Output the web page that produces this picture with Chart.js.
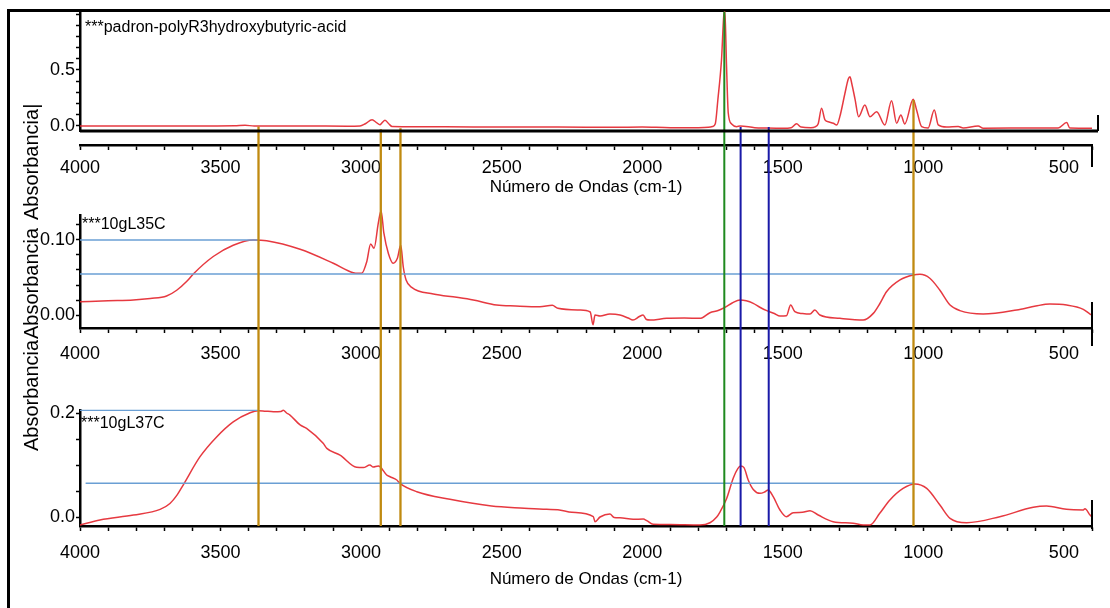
<!DOCTYPE html>
<html><head><meta charset="utf-8">
<script src="https://cdn.jsdelivr.net/npm/chart.js@4.4.1/dist/chart.umd.min.js"></script>
<style>
html,body{margin:0;padding:0;background:#fff;}
#wrap{position:relative;width:1110px;height:608px;overflow:hidden;background:#fff;}
canvas{position:absolute;left:0;}
#frame{position:absolute;left:7px;top:9px;width:1200px;height:700px;border-top:3px solid #000;border-left:3px solid #000;}
.ytitle{position:absolute;left:21px;font-family:'Liberation Sans',Arial,sans-serif;font-size:20px;line-height:20px;white-space:nowrap;transform-origin:left top;transform:rotate(-90deg);color:#000;}
</style></head>
<body><div id="wrap">
<div id="frame"></div>
<canvas id="c1" width="1110" height="200" style="top:0px"></canvas>
<canvas id="c2" width="1110" height="170" style="top:200px"></canvas>
<canvas id="c3" width="1110" height="238" style="top:370px"></canvas>
<div class="ytitle" style="top:451px">Absorbancia</div>
<div class="ytitle" style="top:339px">Absorbancia</div>
<div class="ytitle" style="top:220px">Absorbancia|</div>
</div>
<script>
// ---------- data ----------
const X_MIN = 400, X_MAX = 4000, X_MINOR_STEP = 100;
const xTickLabels = [4000, 3500, 3000, 2500, 2000, 1500, 1000, 500];
const xAxisTitle = 'Número de Ondas (cm-1)';

const panelNames = ['***padron-polyR3hydroxybutyric-acid', '***10gL35C', '***10gL37C'];

// panel 1: PHB standard
const s1Wn = [4000,3800,3600,3450,3413,3380,3200,3050,3004,2985,2961,2945,2933,2925,2915,2900,2890,2700,2500,2300,2100,2000,1900,1800,1765,1750,1740,1731,1718,1709,1706,1700,1694,1682,1664,1652,1600,1557,1500,1470,1451,1435,1400,1385,1374,1362,1350,1335,1320,1308,1297,1279,1267,1261,1255,1243,1230,1208,1190,1166,1137,1113,1095,1080,1066,1036,1024,1006,983,961,947,917,876,858,805,787,600,520,490,479,400];
const s1Abs = [0.0,0.0,0.0,0.002,0.006,0.0,0.0,-0.002,0.0,0.02,0.055,0.03,0.01,0.03,0.05,0.015,-0.005,-0.008,-0.01,-0.01,-0.012,-0.01,-0.015,-0.015,-0.012,-0.005,0.02,0.232,0.589,1.006,1.02,0.53,0.116,0.018,-0.006,0.0,-0.015,-0.018,-0.02,-0.015,0.02,-0.01,-0.015,-0.008,0.02,0.158,0.054,0.035,0.024,0.009,0.083,0.29,0.42,0.44,0.384,0.24,0.083,0.1875,0.083,0.128,0.009,0.226,0.024,0.098,0.018,0.238,0.143,-0.006,-0.018,0.143,0.009,-0.01,-0.005,-0.018,0.0,-0.02,-0.018,-0.018,0.03,-0.018,-0.02];

// panel 2: 10gL35C
const s2Wn = [4000,3900,3810,3750,3692,3656,3620,3597,3526,3455,3384,3336,3217,3099,3028,3010,2998,2980,2966,2954,2939,2929,2919,2903,2886,2871,2859,2850,2840,2820,2743,2660,2601,2518,2450,2364,2320,2300,2222,2185,2175,2168,2150,2115,2079,2050,2033,2010,1997,1985,1972,1913,1850,1795,1759,1730,1706,1680,1652,1630,1605,1580,1557,1530,1510,1487,1472,1457,1430,1403,1386,1368,1297,1214,1178,1155,1131,1083,1036,1012,977,941,905,870,787,668,600,550,490,431,407,400];
const s2Abs = [0.0177,0.019,0.02,0.022,0.0253,0.033,0.045,0.0547,0.078,0.093,0.100,0.099,0.0876,0.069,0.0564,0.0556,0.0556,0.071,0.0947,0.089,0.122,0.139,0.109,0.082,0.069,0.0756,0.093,0.064,0.0467,0.0369,0.028,0.0236,0.02,0.0133,0.012,0.011,0.013,0.009,0.0067,0.004,-0.013,0.0,-0.0013,0.0013,0.0,-0.004,-0.0067,-0.002,0.0,-0.006,-0.0067,-0.0044,-0.004,-0.0044,0.0031,0.006,0.0102,0.016,0.02,0.019,0.0156,0.01,0.0058,0.002,-0.0013,-0.001,0.0133,0.0044,0.002,0.0013,0.0067,0.0,-0.0044,-0.0067,0.0022,0.015,0.031,0.0467,0.0533,0.0542,0.049,0.033,0.0133,0.0058,0.0013,0.0067,0.012,0.0147,0.0133,0.0076,0.0013,0.0];

// panel 3: 10gL37C
const s3Wn = [4000,3929,3810,3715,3680,3655,3633,3573,3514,3455,3395,3366,3340,3312,3285,3277,3265,3253,3217,3194,3135,3122,3075,3016,2992,2969,2957,2939,2933,2909,2897,2873,2862,2802,2684,2536,2420,2340,2300,2250,2174,2168,2150,2115,2100,2079,2032,1996,1984,1961,1900,1795,1759,1735,1724,1700,1676,1660,1650,1638,1623,1605,1581,1565,1552,1534,1510,1487,1463,1430,1403,1374,1321,1250,1214,1190,1155,1119,1072,1030,988,941,905,846,728,609,562,491,431,425,407,400];
const s3Abs = [-0.0154,-0.0058,0.0038,0.0147,0.026,0.042,0.0615,0.116,0.154,0.183,0.2006,0.2045,0.2035,0.2026,0.203,0.2055,0.2,0.196,0.177,0.1705,0.1417,0.132,0.119,0.0955,0.095,0.1,0.096,0.098,0.097,0.0808,0.0775,0.0712,0.0648,0.0487,0.034,0.021,0.017,0.0147,0.014,0.009,0.0006,-0.009,0.0,0.0058,-0.001,-0.0015,-0.0045,-0.004,-0.007,-0.014,-0.0145,-0.0154,-0.011,0.0,0.009,0.035,0.075,0.093,0.098,0.095,0.0712,0.053,0.0455,0.048,0.052,0.039,0.0135,0.0006,0.0083,0.009,0.012,0.0038,-0.009,-0.012,-0.0154,-0.0154,0.0071,0.0327,0.055,0.0635,0.055,0.023,-0.0025,-0.011,0.0006,0.0186,0.021,0.0147,0.0135,0.016,0.0038,0.0];

// y ranges, minor tick steps and labelled ticks
const y1Range = [-0.045, 1.018], y1Step = 0.1,  y1TickLabels = ['0.0', '0.5'];
const y2Range = [-0.0173, 0.1333], y2Step = 0.02, y2TickLabels = ['0.00', '0.10'];
const y3Range = [-0.0173, 0.2058], y3Step = 0.05, y3TickLabels = ['0.0', '0.2'];

// marker (vertical) lines, wavenumbers
const orangeMarkers = [3365, 2930, 2860, 1035];
const greenMarkers = [1708];
const blueMarkers = [1650, 1550];
// where each marker starts in the top panel (absorbance)
const orangeStartP1 = [-0.005, -0.03, -0.02, 0.232];
const greenStartP1 = [1.02];
const blueStartP1 = [-0.01, -0.01];

// horizontal reference lines
const p2RefLevels = [0.100, 0.0547], p2RefStarts = [4000, 4000], p2RefEnds = [3365, 1035];
const p3RefLevels = [0.205, 0.065],  p3RefStarts = [4000, 3980], p3RefEnds = [3365, 1035];

// ---------- styles ----------
const FONT = "'Liberation Sans',Arial,sans-serif";
const TICK_SIZE = 18, TITLE_SIZE = 17, LABEL_SIZE = 16;
const RED = 'rgba(228,40,48,0.92)';
const ORANGE = '#c08a10', GREEN = '#1f8a1f', BLUE = '#1a1aa8', LIGHTBLUE = '#6a9fd4';
const FAR = 1000; // beyond any panel edge

function spectrum(wn, ab) {
  return { data: wn.map((x, i) => ({ x, y: ab[i] })), borderColor: RED, borderWidth: 1.5,
    pointRadius: 0, showLine: true, cubicInterpolationMode: 'monotone', clip: false, order: 5 };
}
function seg(x0, y0, x1, y1, color, w, order) {
  return { data: [{ x: x0, y: y0 }, { x: x1, y: y1 }], borderColor: color, borderWidth: w,
    pointRadius: 0, showLine: true, clip: false, order: order, tension: 0 };
}
function markers(list, color, w, startFn, endFn) {
  return list.map((x, i) => seg(x, startFn(i), x, endFn(i), color, w, 0));
}
function refs(levels, starts, ends) {
  return levels.map((y, i) => seg(starts[i], y, ends[i], y, LIGHTBLUE, 1.4, 2));
}

function xAxis(labelPad, extra) {
  return Object.assign({
    type: 'linear', min: X_MIN, max: X_MAX, reverse: true, position: 'bottom', weight: 10,
    afterBuildTicks: s => { const t = []; for (let v = X_MIN; v <= X_MAX; v += X_MINOR_STEP) t.push({ value: v }); s.ticks = t; },
    ticks: { autoSkip: false, maxRotation: 0, minRotation: 0, padding: labelPad, color: '#000',
      font: { family: FONT, size: TICK_SIZE }, callback: v => xTickLabels.includes(v) ? String(v) : '' },
    grid: { drawOnChartArea: false, drawTicks: true, tickLength: 5, tickWidth: 1.5, tickColor: '#000' },
    border: { display: true, color: '#000', width: 2.5 }
  }, extra);
}
function yAxis(range, step, labels) {
  return {
    type: 'linear', min: range[0], max: range[1], position: 'left',
    afterBuildTicks: s => { const t = []; for (let k = 0; k * step <= range[1] + 1e-9; k++) t.push({ value: +(k * step).toFixed(4) }); s.ticks = t; },
    afterFit: s => { s.width = 72; s.paddingTop = 0; s.paddingBottom = 0; },
    ticks: { autoSkip: false, padding: 1, color: '#000', font: { family: FONT, size: TICK_SIZE },
      callback: v => { const l = labels.find(t => Math.abs(parseFloat(t) - v) < 1e-6); return l === undefined ? '' : l; } },
    grid: { drawOnChartArea: false, tickLength: 4, tickWidth: 1.5, tickColor: '#000' },
    border: { color: '#000', width: 2.5 }
  };
}

const deco = {
  id: 'deco',
  afterDraw(chart, args, o) {
    const ctx = chart.ctx, a = chart.chartArea, xs = chart.scales.x;
    ctx.save();
    ctx.strokeStyle = '#000';
    if (o.box) {
      ctx.lineWidth = 3; ctx.beginPath(); ctx.moveTo(a.left, a.bottom); ctx.lineTo(a.right + o.box.ext, a.bottom); ctx.stroke();
      ctx.lineWidth = 2; ctx.beginPath(); ctx.moveTo(a.right + o.box.ext, a.bottom); ctx.lineTo(a.right + o.box.ext, a.bottom - o.box.tick); ctx.stroke();
    }
    if (o.endMark) {
      ctx.lineWidth = 2; ctx.beginPath(); ctx.moveTo(a.right, xs.top - o.endMark.up); ctx.lineTo(a.right, xs.top + o.endMark.down); ctx.stroke();
    }
    if (o.label) {
      ctx.fillStyle = '#000'; ctx.font = LABEL_SIZE + 'px ' + FONT; ctx.textAlign = 'left'; ctx.textBaseline = 'alphabetic';
      ctx.fillText(o.label.text, a.left + o.label.dx, a.top + o.label.dy);
    }
    ctx.restore();
  }
};

function makeChart(id, datasets, scales, padding, decoOpts) {
  return new Chart(document.getElementById(id), {
    type: 'scatter',
    data: { datasets },
    options: {
      responsive: false, animation: false, devicePixelRatio: 1,
      layout: { padding },
      scales,
      plugins: { legend: { display: false }, tooltip: { enabled: false }, deco: decoOpts }
    },
    plugins: [deco]
  });
}

// ---------- panel 1 ----------
makeChart('c1',
  [].concat(
    markers(orangeMarkers, ORANGE, 2.3, i => orangeStartP1[i], () => -FAR),
    markers(greenMarkers, GREEN, 2, i => greenStartP1[i], () => -FAR),
    markers(blueMarkers, BLUE, 2, i => blueStartP1[i], () => -FAR),
    [spectrum(s1Wn, s1Abs)]
  ),
  {
    xgap: { type: 'linear', min: X_MIN, max: X_MAX, reverse: true, position: 'bottom', weight: 0,
      ticks: { display: false }, grid: { display: false, drawTicks: false }, border: { display: false },
      afterFit: s => { s.height = 14; s.paddingLeft = 0; s.paddingRight = 0; } },
    x: xAxis(7, {
      afterFit: s => { s.height = 55; s.paddingLeft = 0; s.paddingRight = 0; },
      title: { display: true, text: xAxisTitle, color: '#000', font: { family: FONT, size: TITLE_SIZE }, padding: { top: 0, bottom: 2 } }
    }),
    y: yAxis(y1Range, y1Step, y1TickLabels)
  },
  { left: 8, right: 18, top: 12, bottom: 0 },
  { box: { ext: 6, tick: 16 }, endMark: { up: 0, down: 22 }, label: { text: panelNames[0], dx: 5, dy: 20 } }
);

// ---------- panel 2 ----------
makeChart('c2',
  [].concat(
    markers(orangeMarkers, ORANGE, 2.3, () => FAR, () => -FAR),
    markers(greenMarkers, GREEN, 2, () => FAR, () => -FAR),
    markers(blueMarkers, BLUE, 2, () => FAR, () => -FAR),
    refs(p2RefLevels, p2RefStarts, p2RefEnds),
    [spectrum(s2Wn, s2Abs)]
  ),
  {
    x: xAxis(10, { afterFit: s => { s.height = 42; s.paddingLeft = 0; s.paddingRight = 0; }, title: { display: false } }),
    y: yAxis(y2Range, y2Step, y2TickLabels)
  },
  { left: 8, right: 18, top: 15, bottom: 0 },
  { endMark: { up: 26, down: 18 }, label: { text: panelNames[1], dx: 2, dy: 14 } }
);

// ---------- panel 3 ----------
makeChart('c3',
  [].concat(
    markers(orangeMarkers, ORANGE, 2.3, () => FAR, () => y3Range[0]),
    markers(greenMarkers, GREEN, 2, () => FAR, () => y3Range[0]),
    markers(blueMarkers, BLUE, 2, () => FAR, () => y3Range[0]),
    refs(p3RefLevels, p3RefStarts, p3RefEnds),
    [spectrum(s3Wn, s3Abs)]
  ),
  {
    x: xAxis(11, {
      afterFit: s => { s.height = 82; s.paddingLeft = 0; s.paddingRight = 0; },
      title: { display: true, text: xAxisTitle, color: '#000', font: { family: FONT, size: TITLE_SIZE }, padding: { top: 0, bottom: 18 } }
    }),
    y: yAxis(y3Range, y3Step, y3TickLabels)
  },
  { left: 8, right: 18, top: 40, bottom: 0 },
  { endMark: { up: 26, down: 3 }, label: { text: panelNames[2], dx: 1, dy: 18 } }
);
</script>
</body></html>
